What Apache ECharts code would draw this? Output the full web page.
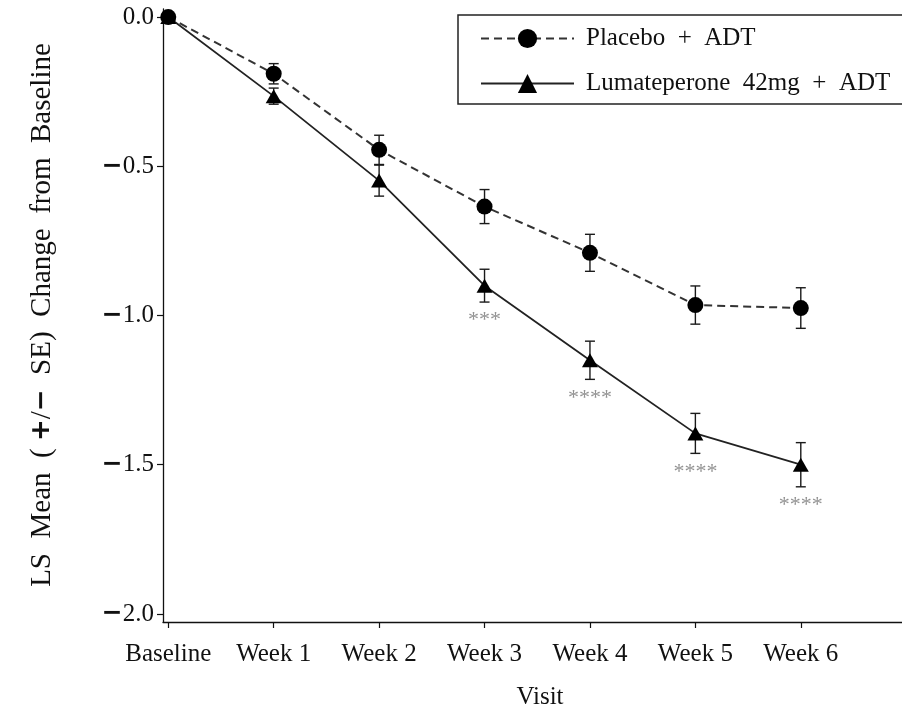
<!DOCTYPE html>
<html>
<head>
<meta charset="utf-8">
<script src="https://cdn.jsdelivr.net/npm/echarts@6/dist/echarts.min.js"></script>
<style>
html,body{margin:0;padding:0;background:#fff;}
#chart{width:902px;height:714px;}
</style>
</head>
<body>
<div id="chart"></div>
<script>
const visits = ['Baseline', 'Week 1', 'Week 2', 'Week 3', 'Week 4', 'Week 5', 'Week 6'];
const placeboMean = [0, -0.19, -0.445, -0.635, -0.79, -0.965, -0.975];
const placeboSE = [0, 0.034, 0.049, 0.057, 0.062, 0.064, 0.068];
const lumaMean = [0, -0.265, -0.548, -0.90, -1.15, -1.395, -1.50];
const lumaSE = [0, 0.027, 0.052, 0.055, 0.064, 0.067, 0.074];
const lumaSig = ['', '', '', '***', '****', '****', '****'];
const yTicks = [0, -0.5, -1.0, -1.5, -2.0];
const seriesNames = ['Placebo  +  ADT', 'Lumateperone  42mg  +  ADT'];
const yTitleParts = ['LS  Mean  ( ', '+', '/', '\u2212', '  SE)  Change  from  Baseline'];
const xTitle = 'Visit';

const FONT = '"Liberation Serif", "DejaVu Serif", serif';
const BOLDFONT = '"DejaVu Sans", sans-serif';
const xIdx = visits.map((v, i) => i);

function pts(mean) { return mean.map((m, i) => [i, m]); }
function errData(mean, se) { return mean.map((m, i) => [i, m - se[i], m + se[i]]); }

function errRender(params, api) {
  const x = api.value(0), lo = api.value(1), hi = api.value(2);
  if (hi - lo < 1e-9) return null;
  const a = api.coord([x, hi]), b = api.coord([x, lo]);
  const w = 5;
  const st = { stroke: '#1a1a1a', lineWidth: 1.4 };
  return {
    type: 'group',
    children: [
      { type: 'line', shape: { x1: a[0], y1: a[1], x2: b[0], y2: b[1] }, style: st },
      { type: 'line', shape: { x1: a[0] - w, y1: a[1], x2: a[0] + w, y2: a[1] }, style: st },
      { type: 'line', shape: { x1: b[0] - w, y1: b[1], x2: b[0] + w, y2: b[1] }, style: st }
    ]
  };
}

function fmtNum(v) {
  const s = Math.abs(v).toFixed(1);
  return v < 0 ? '{m|\u2212}' + s : s;
}

const chart = echarts.init(document.getElementById('chart'), null, { renderer: 'canvas' });
chart.setOption({
  animation: false,
  backgroundColor: '#fff',
  textStyle: { fontFamily: FONT },
  grid: { left: 163, right: 0, top: 9, bottom: 92, containLabel: false },
  xAxis: {
    type: 'value', min: -0.05, max: 6.96,
    splitLine: { show: false },
    axisLine: { onZero: false, lineStyle: { color: '#111', width: 1.3 } },
    axisTick: { customValues: xIdx, length: 6, lineStyle: { color: '#111', width: 1.2 } },
    axisLabel: {
      customValues: xIdx, margin: 20,
      formatter: v => visits[Math.round(v)] || '',
      color: '#111', fontFamily: FONT, fontSize: 25
    }
  },
  yAxis: {
    type: 'value', min: -2.027, max: 0.027,
    splitLine: { show: false },
    axisLine: { show: true, onZero: false, lineStyle: { color: '#111', width: 1.3 } },
    axisTick: { show: true, customValues: yTicks, length: 6, lineStyle: { color: '#111', width: 1.2 } },
    axisLabel: {
      customValues: yTicks, margin: 9,
      formatter: fmtNum,
      color: '#111', fontFamily: FONT, fontSize: 25,
      rich: { m: { fontWeight: 'bold', fontSize: 25, fontFamily: BOLDFONT, color: '#111' } }
    }
  },
  legend: {
    orient: 'vertical', left: 458, top: 15,
    padding: [11, 40, 8, 22],
    itemWidth: 93, itemHeight: 24, itemGap: 20,
    borderColor: '#222', borderWidth: 1.5,
    data: seriesNames,
    textStyle: { fontFamily: FONT, fontSize: 25, color: '#111', padding: [0, 0, 0, 7] }
  },
  graphic: [
    {
      type: 'text', x: 42, y: 315, rotation: Math.PI / 2,
      style: {
        text: '{t|' + yTitleParts[0] + '}{b|' + yTitleParts[1] + '}{t|' + yTitleParts[2] + '}{b|' + yTitleParts[3] + '}{t|' + yTitleParts[4] + '}',
        fill: '#111', font: '29px ' + FONT, textAlign: 'center', textVerticalAlign: 'middle',
        rich: {
          t: { fontFamily: FONT, fontSize: 29, fill: '#111' },
          b: { fontFamily: BOLDFONT, fontWeight: 'bold', fontSize: 26, fill: '#111' }
        }
      }
    },
    {
      type: 'text', x: 540, y: 697,
      style: { text: xTitle, fill: '#111', font: '25px ' + FONT, textAlign: 'center', textVerticalAlign: 'middle' }
    }
  ],
  series: [
    {
      type: 'custom', name: 'errP', renderItem: errRender, data: errData(placeboMean, placeboSE),
      encode: { x: 0, y: [1, 2] }, z: 1, silent: true
    },
    {
      type: 'custom', name: 'errL', renderItem: errRender, data: errData(lumaMean, lumaSE),
      encode: { x: 0, y: [1, 2] }, z: 1, silent: true
    },
    {
      name: seriesNames[0], type: 'line', data: pts(placeboMean), z: 3,
      symbol: 'circle', symbolSize: 16,
      itemStyle: { color: '#000' },
      lineStyle: { color: '#333', width: 2, type: [8, 5] }
    },
    {
      name: seriesNames[1], type: 'line', data: pts(lumaMean), z: 3,
      symbol: 'triangle', symbolSize: [16, 14],
      itemStyle: { color: '#000' },
      lineStyle: { color: '#222', width: 1.8, type: 'solid' }
    },
    {
      name: 'sig', type: 'scatter', z: 4, silent: true,
      symbol: 'circle', symbolSize: 1,
      itemStyle: { color: 'rgba(0,0,0,0)' },
      data: lumaMean.map((m, i) => ({ value: [i, m - lumaSE[i]], label: { formatter: lumaSig[i] } })),
      label: {
        show: true, position: 'bottom', distance: 7,
        color: '#777', fontFamily: FONT, fontSize: 22
      }
    }
  ]
});
</script>
</body>
</html>
